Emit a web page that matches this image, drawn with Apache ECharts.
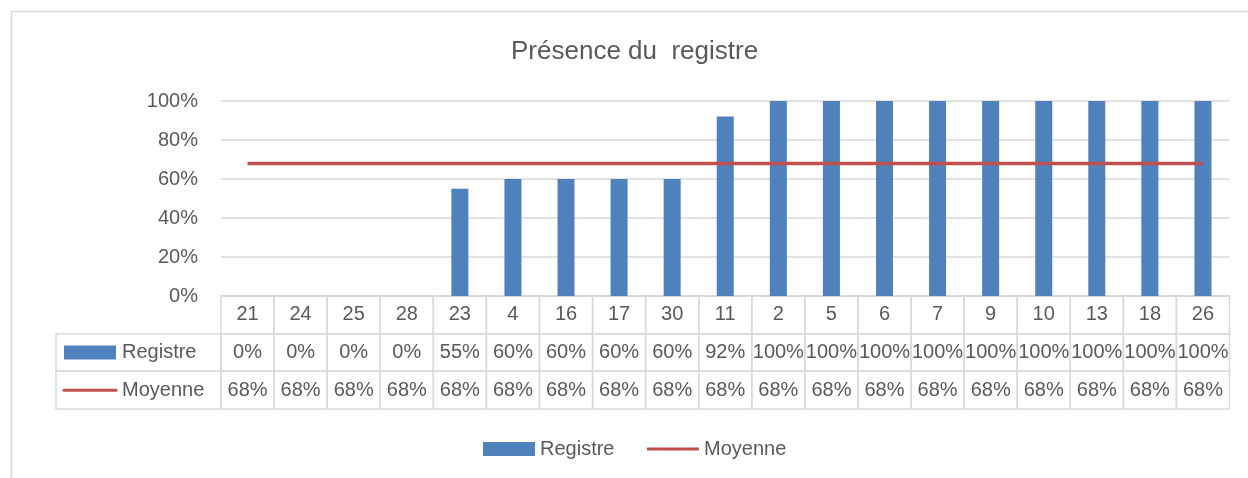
<!DOCTYPE html>
<html>
<head>
<meta charset="utf-8">
<script src="https://cdn.jsdelivr.net/npm/echarts@6/dist/echarts.min.js"></script>
<style>
  html, body { margin: 0; padding: 0; background: #fff; }
  #main { width: 1248px; height: 478px; }
</style>
</head>
<body>
<div id="main"></div>
<script>
var categories = ['21', '24', '25', '28', '23', '4', '16', '17', '30', '11', '2', '5', '6', '7', '9', '10', '13', '18', '26'];
var registre = [0, 0, 0, 0, 55, 60, 60, 60, 60, 92, 100, 100, 100, 100, 100, 100, 100, 100, 100];
var moyenne = [68, 68, 68, 68, 68, 68, 68, 68, 68, 68, 68, 68, 68, 68, 68, 68, 68, 68, 68];
var seriesNames = ['Registre', 'Moyenne'];

var FONT = '"Liberation Sans", Arial, sans-serif';
var TEXT = '#595959';
var BORDER = '#d9d9d9';
var BLUE = '#4F81BD';
var RED = '#C0504D';

// table rows: header, then one row per series
var tableRows = [
  categories,
  registre.map(function (v) { return v + '%'; }),
  moyenne.map(function (v) { return v + '%'; })
];
var cells = [];
for (var r = 0; r < tableRows.length; r++) {
  for (var c = 0; c < categories.length; c++) cells.push([c, r]);
}

var LABEL_COL = 165;

function renderCell(params, api) {
  var c = api.value(0), r = api.value(1);
  var pt = api.coord([c, r]);
  var size = api.size([1, 1]);
  var w = size[0], h = size[1];
  var x0 = pt[0] - w / 2, y0 = pt[1] - h / 2;
  var children = [
    { type: 'rect', shape: { x: x0, y: y0, width: w, height: h },
      style: { fill: 'none', stroke: BORDER, lineWidth: 1.5 } },
    { type: 'text', style: { text: tableRows[r][c], x: pt[0], y: pt[1], align: 'center', verticalAlign: 'middle',
      fontSize: 20, fontFamily: FONT, fill: TEXT } }
  ];
  if (c === 0 && r > 0) {
    var lx = x0 - LABEL_COL;
    children.push({ type: 'rect', shape: { x: lx, y: y0, width: LABEL_COL, height: h },
      style: { fill: 'none', stroke: BORDER, lineWidth: 1.5 } });
    if (r === 1) {
      children.push({ type: 'rect', shape: { x: lx + 8, y: pt[1] - 7, width: 52, height: 14 }, style: { fill: BLUE } });
    } else {
      children.push({ type: 'line', shape: { x1: lx + 8, y1: pt[1], x2: lx + 60, y2: pt[1] },
        style: { stroke: RED, lineWidth: 3, lineCap: 'round' } });
    }
    children.push({ type: 'text', style: { text: seriesNames[r - 1], x: lx + 66, y: pt[1], align: 'left', verticalAlign: 'middle',
      fontSize: 20, fontFamily: FONT, fill: TEXT } });
  }
  return { type: 'group', children: children };
}

var chart = echarts.init(document.getElementById('main'));
var option = {
  animation: false,
  title: {
    text: 'Présence du  registre',
    left: 506,
    top: 34,
    textStyle: { fontFamily: FONT, fontSize: 26, fontWeight: 'normal', color: TEXT }
  },
  legend: {
    data: [
      { name: seriesNames[0], icon: 'rect' },
      { name: seriesNames[1], itemStyle: { opacity: 0 }, lineStyle: { width: 3 } }
    ],
    left: 478,
    top: 434,
    itemWidth: 52,
    itemHeight: 14,
    itemGap: 31,
    textStyle: { fontFamily: FONT, fontSize: 20, color: TEXT }
  },
  graphic: [{
    type: 'rect', silent: true,
    shape: { x: 11.5, y: 11.5, width: 1260, height: 500 },
    style: { fill: 'none', stroke: BORDER, lineWidth: 1.5 }
  }],
  grid: [
    { left: 221, right: 18.5, top: 101, bottom: 182 },
    { left: 221, right: 18.5, top: 296, height: 113 }
  ],
  xAxis: [
    { type: 'category', gridIndex: 0, data: categories, boundaryGap: true,
      axisLine: { show: true, lineStyle: { color: BORDER, width: 1.5 } },
      axisTick: { show: false }, axisLabel: { show: false } },
    { type: 'category', gridIndex: 1, data: categories, boundaryGap: true,
      axisLine: { show: false }, axisTick: { show: false }, axisLabel: { show: false } }
  ],
  yAxis: [
    { type: 'value', gridIndex: 0, min: 0, max: 100, interval: 20,
      axisLine: { show: false }, axisTick: { show: false },
      axisLabel: { formatter: '{value}%', margin: 23, fontFamily: FONT, fontSize: 20, color: TEXT },
      splitLine: { lineStyle: { color: BORDER, width: 1.5 } } },
    { type: 'category', gridIndex: 1, data: ['', 'Registre', 'Moyenne'], inverse: true,
      axisLine: { show: false }, axisTick: { show: false }, axisLabel: { show: false }, splitLine: { show: false } }
  ],
  series: [
    { name: 'Registre', type: 'bar', xAxisIndex: 0, yAxisIndex: 0, data: registre,
      barWidth: 17, itemStyle: { color: BLUE } },
    { name: 'Moyenne', type: 'line', xAxisIndex: 0, yAxisIndex: 0, data: moyenne,
      symbol: 'none', lineStyle: { color: RED, width: 3.5 }, itemStyle: { color: RED } },
    { name: 'table', type: 'custom', xAxisIndex: 1, yAxisIndex: 1, data: cells,
      clip: false, silent: true, renderItem: renderCell }
  ]
};
chart.setOption(option);
</script>
</body>
</html>
